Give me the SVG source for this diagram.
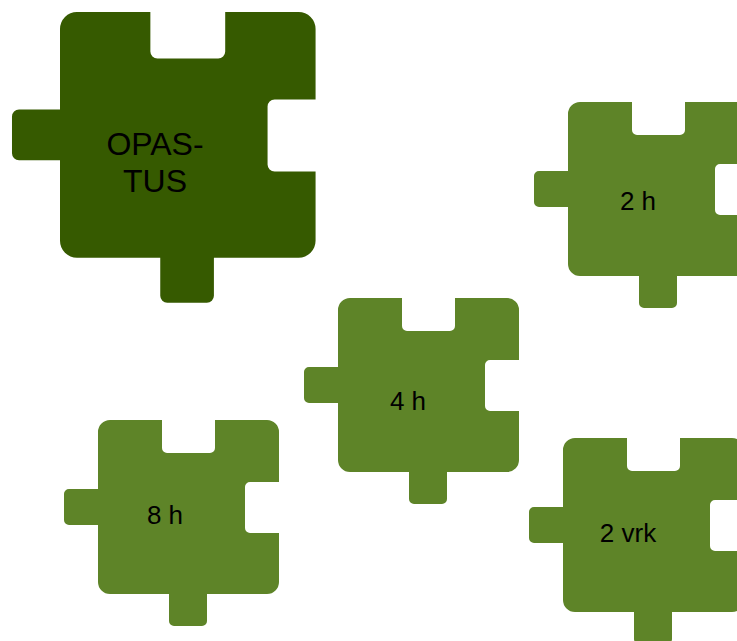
<svg xmlns="http://www.w3.org/2000/svg" xmlns:xlink="http://www.w3.org/1999/xlink" width="737" height="641" viewBox="0 0 737 641">
  <style>
    .piece { fill: #5e8428; }
    .piece-main { fill: #365a00; }
    .label { font-family: "Liberation Sans", Arial, sans-serif; font-size: 26px; fill: #000; text-anchor: middle; }
    .label-main { font-size: 32px; }
  </style>
  <defs>
    <!-- Puzzle piece: 181x174 body, notch on top and right, tab on left and bottom -->
    <path id="jigsaw" d="M 12,0 H 64 V 28 A 5 5 0 0 0 69,33 H 112 A 5 5 0 0 0 117,28 V 0 H 169 A 12 12 0 0 1 181,12 V 62 H 152 A 5 5 0 0 0 147,67 V 108 A 5 5 0 0 0 152,113 H 181 V 162 A 12 12 0 0 1 169,174 H 109 V 201 A 5 5 0 0 1 104,206 H 76 A 5 5 0 0 1 71,201 V 174 H 12 A 12 12 0 0 1 0,162 V 105 H -29 A 5 5 0 0 1 -34,100 V 74 A 5 5 0 0 1 -29,69 H 0 V 12 A 12 12 0 0 1 12,0 Z"/>
  </defs>

  <g id="opastus">
    <use xlink:href="#jigsaw" class="piece-main" transform="translate(60,12) scale(1.412)"/>
    <text class="label label-main" x="155" y="155">OPAS-</text>
    <text class="label label-main" x="155" y="192">TUS</text>
  </g>

  <g id="piece-2h">
    <use xlink:href="#jigsaw" class="piece" transform="translate(568,102)"/>
    <text class="label" x="638" y="210">2 h</text>
  </g>

  <g id="piece-4h">
    <use xlink:href="#jigsaw" class="piece" transform="translate(338,298)"/>
    <text class="label" x="408" y="410">4 h</text>
  </g>

  <g id="piece-8h">
    <use xlink:href="#jigsaw" class="piece" transform="translate(98,420)"/>
    <text class="label" x="165" y="524">8 h</text>
  </g>

  <g id="piece-2vrk">
    <use xlink:href="#jigsaw" class="piece" transform="translate(563,438)"/>
    <text class="label" x="628" y="542">2 vrk</text>
  </g>

  <g id="connectors"/>
</svg>
